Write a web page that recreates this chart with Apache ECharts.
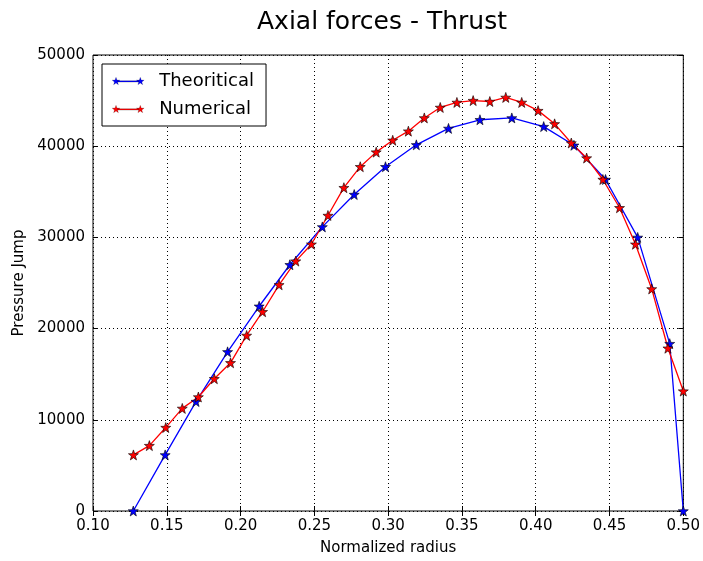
<!DOCTYPE html>
<html>
<head>
<meta charset="utf-8">
<script src="https://cdn.jsdelivr.net/npm/echarts@6/dist/echarts.min.js"></script>
<style>html,body{margin:0;padding:0;background:#fff}#c{width:703px;height:561px}</style>
</head>
<body>
<div id="c"></div>
<script>
const titleText = 'Axial forces - Thrust';
const xTicks = [0.10, 0.15, 0.20, 0.25, 0.30, 0.35, 0.40, 0.45, 0.50];
const yTicks = [0, 10000, 20000, 30000, 40000, 50000];
const theoX = [0.1273, 0.1489, 0.1698, 0.1912, 0.2126, 0.2334, 0.2554, 0.2770, 0.2982, 0.3191, 0.3409, 0.3622, 0.3838, 0.4054, 0.4259, 0.4473, 0.4691, 0.4908, 0.5];
const theoY = [0, 6150, 12000, 17450, 22450, 27000, 31150, 34700, 37750, 40150, 41950, 42900, 43100, 42150, 40100, 36350, 30000, 18350, 0];
const numX = [0.1274, 0.1382, 0.1493, 0.1605, 0.1714, 0.1822, 0.1932, 0.2041, 0.2149, 0.2261, 0.2374, 0.2480, 0.2592, 0.2700, 0.2811, 0.2919, 0.3031, 0.3137, 0.3245, 0.3353, 0.3466, 0.3576, 0.3689, 0.3797, 0.3905, 0.4016, 0.4128, 0.4241, 0.4345, 0.4455, 0.4568, 0.4676, 0.4786, 0.4896, 0.5];
const numY = [6150, 7170, 9150, 11250, 12500, 14500, 16250, 19250, 21850, 24800, 27400, 29250, 32400, 35450, 37750, 39350, 40650, 41650, 43100, 44250, 44800, 45000, 44900, 45350, 44800, 43900, 42450, 40350, 38700, 36350, 33250, 29250, 24350, 17850, 13150];

const FONT = 'DejaVu Sans';
function starPts(cx, cy, R, r) {
  let s = '';
  for (let i = 0; i < 10; i++) {
    const a = -Math.PI / 2 + i * Math.PI / 5;
    const rad = i % 2 === 0 ? R : r;
    s += (i === 0 ? 'M' : 'L') + (cx + rad * Math.cos(a)).toFixed(2) + ' ' + (cy + rad * Math.sin(a)).toFixed(2) + ' ';
  }
  return s + 'Z ';
}
const STAR = 'path://' + starPts(5, 5, 5, 2);
const LEGEND_ICON = 'path://' + starPts(5, 5, 5, 2) + starPts(35, 5, 5, 2) + 'M7 4.1 L33 4.1 L33 5.9 L7 5.9 Z';

const zip = (xs, ys) => xs.map((x, i) => [x, ys[i]]);
const chart = echarts.init(document.getElementById('c'), null, {renderer: 'canvas'});
const xMin = xTicks[0], xMax = xTicks[xTicks.length - 1], xInt = 0.05;
const yMin = yTicks[0], yMax = yTicks[yTicks.length - 1], yInt = 10000;
const tickStyle = {show: true, inside: true, length: 5, lineStyle: {color: '#000', width: 1}};
const COLORS = {Theoritical: '#0000ff', Numerical: '#ff0000'};
chart.setOption({
  backgroundColor: '#fff',
  animation: false,
  title: {text: titleText, left: 377, top: 5, textAlign: 'center',
    textStyle: {fontFamily: FONT, fontSize: 25, fontWeight: 'normal', color: '#000'}},
  grid: {left: 93, right: 18, top: 55, bottom: 48, show: true, borderColor: '#000', borderWidth: 1, backgroundColor: 'transparent'},
  legend: {
    left: 102, top: 64, orient: 'vertical', itemGap: 6, itemWidth: 32, itemHeight: 9,
    padding: [6, 12, 6, 10], borderColor: '#000', borderWidth: 1, borderRadius: 0, backgroundColor: '#fff',
    textStyle: {fontFamily: FONT, fontSize: 18, color: '#000', padding: [0, 0, 0, 10], lineHeight: 22},
    data: ['Theoritical', 'Numerical'].map(n => ({
      name: n, icon: LEGEND_ICON,
      itemStyle: {color: COLORS[n], borderColor: 'rgba(0,0,0,0.6)', borderWidth: 0.3, opacity: 1}
    }))
  },
  xAxis: [
    {type: 'value', min: xMin, max: xMax, interval: xInt, position: 'bottom',
      name: 'Normalized radius', nameLocation: 'middle', nameGap: 30,
      nameTextStyle: {fontFamily: FONT, fontSize: 15, color: '#000'},
      axisLine: {show: false}, axisTick: tickStyle,
      axisLabel: {fontFamily: FONT, fontSize: 15, color: '#000', margin: 8, formatter: v => v.toFixed(2)},
      splitLine: {show: true, lineStyle: {color: '#000', type: [1, 3], width: 1}}},
    {type: 'value', min: xMin, max: xMax, interval: xInt, position: 'top',
      axisLine: {show: false}, axisTick: tickStyle, axisLabel: {show: false}, splitLine: {show: false}}
  ],
  yAxis: [
    {type: 'value', min: yMin, max: yMax, interval: yInt, position: 'left',
      name: 'Pressure Jump', nameLocation: 'middle', nameGap: 59, nameRotate: 90,
      nameTextStyle: {fontFamily: FONT, fontSize: 15, color: '#000'},
      axisLine: {show: false}, axisTick: tickStyle,
      axisLabel: {fontFamily: FONT, fontSize: 15, color: '#000', margin: 8, formatter: v => String(v)},
      splitLine: {show: true, lineStyle: {color: '#000', type: [1, 3], width: 1}}},
    {type: 'value', min: yMin, max: yMax, interval: yInt, position: 'right',
      axisLine: {show: false}, axisTick: tickStyle, axisLabel: {show: false}, splitLine: {show: false}}
  ],
  series: [
    {name: 'Theoritical', type: 'line', data: zip(theoX, theoY), symbol: STAR, symbolSize: 10,
      lineStyle: {color: COLORS.Theoritical, width: 1.3}, itemStyle: {color: COLORS.Theoritical, borderColor: '#000', borderWidth: 0.6},
      emphasis: {disabled: true}},
    {name: 'Numerical', type: 'line', data: zip(numX, numY), symbol: STAR, symbolSize: 10,
      lineStyle: {color: COLORS.Numerical, width: 1.3}, itemStyle: {color: COLORS.Numerical, borderColor: '#000', borderWidth: 0.6},
      emphasis: {disabled: true}}
  ]
});
</script>
</body>
</html>
